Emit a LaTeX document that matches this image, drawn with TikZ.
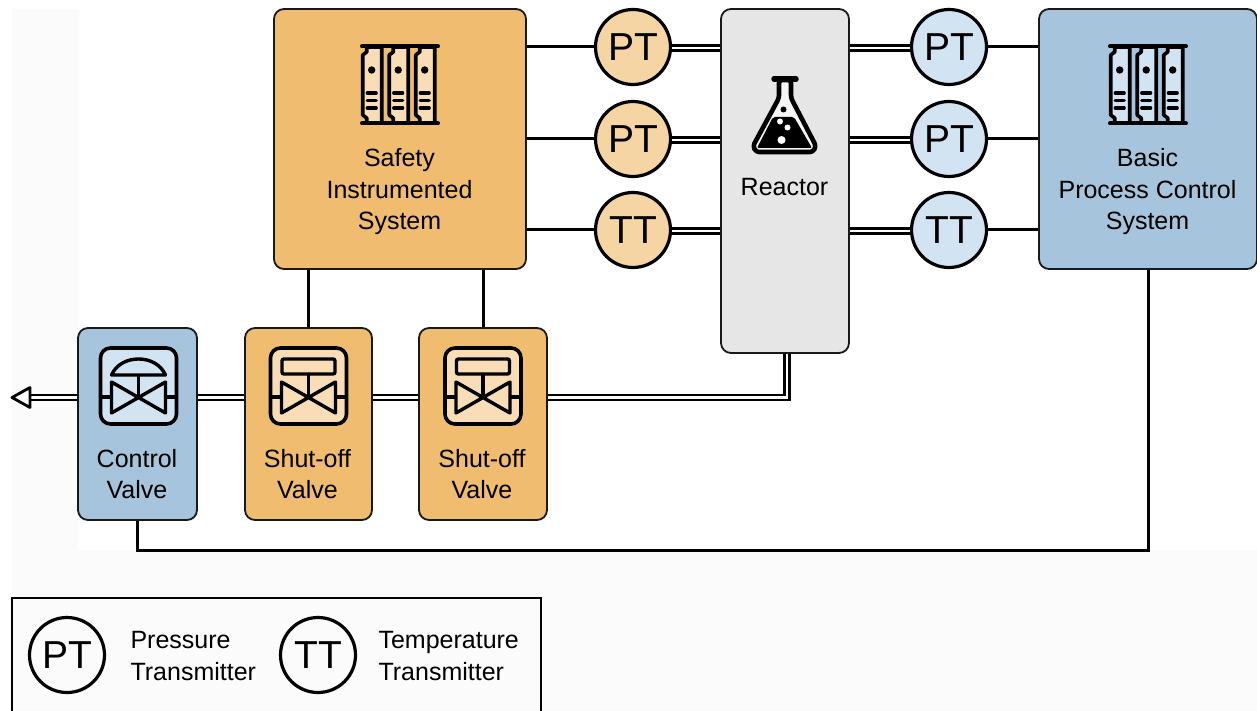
\documentclass[tikz,border=0pt]{standalone}
\usepackage{fontspec}
\setmainfont{Liberation Sans}
\usepackage{xcolor}
\usetikzlibrary{calc}
\definecolor{sisfill}{HTML}{F0BC70}
\definecolor{sislight}{HTML}{F8DDB6}
\definecolor{sispt}{HTML}{F5D5A4}
\definecolor{bpcsfill}{HTML}{A7C4DD}
\definecolor{bpcslight}{HTML}{D2E3F1}
\definecolor{reactorfill}{HTML}{E6E6E6}
\definecolor{pagegrey}{HTML}{FBFBFB}
\tikzset{
  every node/.style={font=\fontsize{25}{31.5}\selectfont},
  unit/.style={
    draw=black!90,
    rounded corners=10pt,
    line width=1.8pt,
    inner sep=0pt
  },
  transmitter/.style={
    draw=black,
    circle,
    minimum size=75pt,
    inner sep=0pt,
    line width=3.2pt,
    font=\fontsize{39}{39}\selectfont
  },
  boxlabel/.style={align=center},
  wire/.style={draw=black, line width=3pt},
  pipe/.style={draw=black, line width=2.6pt, double=white, double distance=2.6pt},
  pics/rackicon/.style={code={
    \foreach \k in {0,1,2} {
      \pgfmathsetmacro{\L}{-37.3+26.5*\k}
      \draw[line width=3.6pt, fill=#1, line join=round] (\L+4,-38) -- (\L+4,-33) -- (\L,-30) -- (\L,30) -- (\L+4,33) -- (\L+4,38) -- (\L+19,38) -- (\L+19,-38) -- cycle;
      \fill (\L+9,-15) circle (3.7);
      \foreach \y in {8,15.5,23} {
        \draw[line width=3.2pt, line cap=round] (\L+4.5,\y) -- (\L+13.5,\y);
      }
    }
    \draw[line width=4pt, line cap=round] (-38,-38.5) -- (38,-38.5);
    \draw[line width=4pt, line cap=round] (-38,38.5) -- (38,38.5);
  }},
  pics/valveicon/.style={code={
    \draw[line width=3.6pt, rounded corners=10pt, fill=#1] (-38,-38) rectangle (38,38);
    \draw[line width=3.4pt, line join=round] (-38,11) -- (-27,11) (27,11) -- (38,11);
    \draw[line width=3.4pt, line join=round] (-27,-4) -- (27,27) -- (27,-4) -- (-27,27) -- cycle;
    \draw[line width=3.4pt] (0,-12) -- (0,11);
  }},
  pics/shutoffhead/.style={code={
    \draw[line width=3.4pt, rounded corners=2pt] (-26.5,-27) rectangle (26.5,-12);
  }},
  pics/controlhead/.style={code={
    \draw[line width=3.4pt, line join=round] (-27,-11) .. controls (-22,-22) and (-11,-27) .. (0,-27) .. controls (11,-27) and (22,-22) .. (27,-11) -- cycle;
  }}
}

\begin{document}
\begin{tikzpicture}[x=1pt,y=-1pt]
  \useasboundingbox (0,0) rectangle (1257,711);

  % Page background
  \fill[pagegrey] (12,9) rectangle (1257,711);
  \fill[white] (78,0) rectangle (1257,550);

  % Main units
  \node[unit, fill=sisfill, minimum width=252pt, minimum height=260pt] (sis) at (400,139) {};
  \node[unit, fill=reactorfill, minimum width=128pt, minimum height=344pt] (reactor) at (785,181) {};
  \node[unit, fill=bpcsfill, minimum width=218pt, minimum height=260pt] (bpcs) at (1148,139) {};
  \node[unit, fill=bpcsfill, minimum width=119pt, minimum height=192pt] (cv) at (137.5,424) {};
  \node[unit, fill=sisfill, minimum width=127pt, minimum height=192pt] (sv1) at (308.5,424) {};
  \node[unit, fill=sisfill, minimum width=128pt, minimum height=192pt] (sv2) at (483,424) {};

  % Unit labels
  \node[boxlabel] (sislabel) at (399.5,192) {Safety\\Instrumented\\System};
  \node[boxlabel] (bpcslabel) at (1147.5,192) {Basic\\Process Control\\System};
  \node[boxlabel] (reactorlabel) at (784.5,187) {Reactor};
  \node[boxlabel] (cvlabel) at (137,474) {Control\\Valve};
  \node[boxlabel] (sv1label) at (307.5,474) {Shut-off\\Valve};
  \node[boxlabel] (sv2label) at (482,474) {Shut-off\\Valve};

  % Transmitters on both sides of the reactor
  \foreach \i/\y/\t in {1/47/PT,2/139/PT,3/230/TT} {
    \node[transmitter, fill=sispt] (sist\i) at (633,\y) {\t};
    \node[transmitter, fill=bpcslight] (bpcst\i) at (949,\y) {\t};
    \draw[wire] (sist\i.west) -- (sist\i.west -| sis.east);
    \draw[wire] (bpcst\i.east) -- (bpcst\i.east -| bpcs.west);
    \draw[pipe] (sist\i.east) ++(0,1) -- ($(sist\i.east -| reactor.west)+(0,1)$);
    \draw[pipe] (bpcst\i.west) ++(0,1) -- ($(bpcst\i.west -| reactor.east)+(0,1)$);
  }

  % Icons
  \pic at (400,85) {rackicon=sislight};
  \pic at (1148,85) {rackicon=bpcslight};
  \pic at (138.5,386) {valveicon=bpcslight};
  \pic at (138.5,386) {controlhead};
  \pic at (308.5,386) {valveicon=sislight};
  \pic at (308.5,386) {shutoffhead};
  \pic at (483,386) {valveicon=sislight};
  \pic at (483,386) {shutoffhead};

  % Flask in the reactor
  \draw[line width=4.6pt, fill=white!96!black, line join=round, rounded corners=3pt] (779,80) -- (779,98) -- (753,146) -- (756,152) -- (813,152) -- (816,146) -- (791,98) -- (791,80) -- cycle;
  \draw[line width=5.5pt, line cap=round] (774,79) -- (796,79);
  \fill[black, rounded corners=2pt] (773,117) -- (794,117) -- (812,148) -- (757,148) -- cycle;
  \fill (783.5,109.5) circle (3);
  \fill[white] (780,121.5) circle (3) (787.5,127.5) circle (3) (781.5,140) circle (4);

  % Process line
  \coordinate (outlet) at (30,397.5);
  \coordinate (bend) at (787,397.5);
  \draw[pipe] (reactor.south -| bend) -- (bend) -- (sv2.east |- bend);
  \draw[pipe] (sv2.west |- bend) -- (sv1.east |- bend);
  \draw[pipe] (sv1.west |- bend) -- (cv.east |- bend);
  \draw[pipe] (cv.west |- bend) -- (outlet);
  \draw[black, line width=2.8pt, fill=white, line join=round] (outlet) ++(0,-10) -- ++(-18,10) -- ++(18,10) -- cycle;

  % Signal lines
  \coordinate (sigbus) at (137.5,550);
  \draw[wire] (sis.south -| sv1) -- (sv1.north);
  \draw[wire] (sis.south -| sv2) -- (sv2.north);
  \draw[wire] (bpcs.south) |- (sigbus) -- (cv.south);

  % Legend
  \draw[black, line width=1.8pt] (12,711) -- (12,598) -- (541,598) -- (541,711);
  \node[transmitter, fill=none] (legendpt) at (67,655) {PT};
  \node[transmitter, fill=none] (legendtt) at (318,655) {TT};
  \node[align=left, anchor=west] (legendptlabel) at (127,656) {Pressure\\Transmitter};
  \node[align=left, anchor=west] (legendttlabel) at (375,656) {Temperature\\Transmitter};
\end{tikzpicture}
\end{document}
